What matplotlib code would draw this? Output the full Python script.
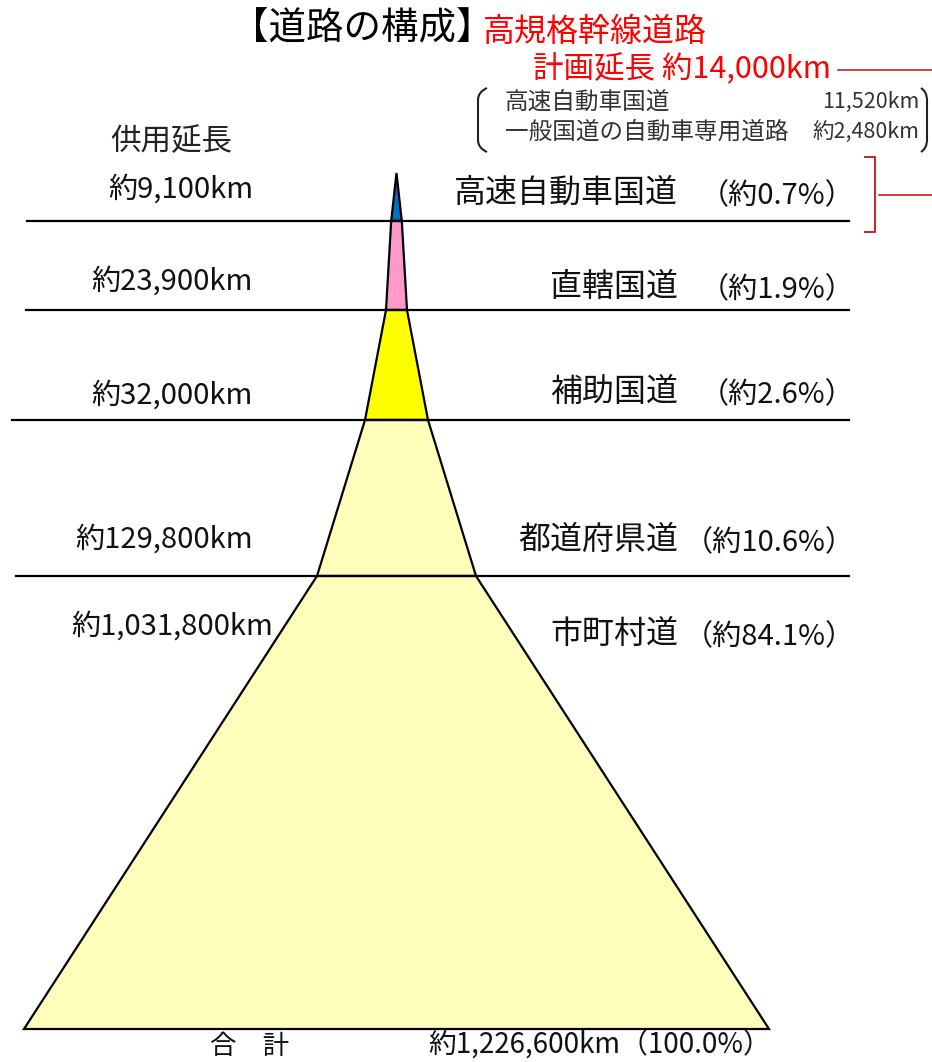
import matplotlib.pyplot as plt
from matplotlib.patches import Polygon, PathPatch
from matplotlib.path import Path

plt.rcParams['font.family'] = ['Noto Sans CJK JP', 'DejaVu Sans']

# data
road_types = ['高速自動車国道', '直轄国道', '補助国道', '都道府県道', '市町村道']
lengths_km = [9100, 23900, 32000, 129800, 1031800]
shares_pct = [0.7, 1.9, 2.6, 10.6, 84.1]
total_km = 1226600
total_pct = 100.0
plan_items = ['高速自動車国道', '一般国道の自動車専用道路']
plan_values = ['11,520km', '約2,480km']
plan_total = '約14,000km'

layer_colors = ['#0070C0', '#FF99CC', '#FFFF00', '#FFFFBB', '#FFFFBB']

# layout (pixel-like coordinates of the drawing)
cx = 396.5
level_y = [173, 221, 310, 420, 576, 1029]
half_w = [0, 5.3, 10.5, 31.5, 79.5, 372.5]
line_x0 = [27, 26, 12, 16]
name_y = [193, 287, 392, 540, 634]
len_y = [190, 282, 396, 540, 627]

fig = plt.figure(figsize=(9.32, 10.62), dpi=100)
ax = fig.add_axes([0, 0, 1, 1])
ax.set_xlim(0, 932)
ax.set_ylim(1062, 0)
ax.axis('off')

# pyramid layers
for i, col in enumerate(layer_colors):
    y0, y1 = level_y[i], level_y[i + 1]
    w0, w1 = half_w[i], half_w[i + 1]
    pts = [(cx - w0, y0), (cx + w0, y0), (cx + w1, y1), (cx - w1, y1)]
    ax.add_patch(Polygon(pts, closed=True, facecolor=col, edgecolor='black',
                         lw=1.6, joinstyle='miter', zorder=2))

# separator lines
for y, x0 in zip(level_y[1:5], line_x0):
    ax.plot([x0, 849], [y, y], color='black', lw=1.6, zorder=3)

# labels
ax.text(171, 142, '供用延長', fontsize=22, ha='center', va='center', color='#222222')
for i, (nm, km, pc) in enumerate(zip(road_types, lengths_km, shares_pct)):
    xr = 273 if i == 4 else 253
    ax.text(xr, len_y[i], f'約{km:,}km', fontsize=21, ha='right', va='center',
            color='#111111')
    ax.text(678, name_y[i], nm, fontsize=23, ha='right', va='center', color='#111111')
    ax.text(855, name_y[i] + 3, f'（約{pc}%）', fontsize=21, ha='right', va='center',
            color='#111111')

# total
ax.text(250, 1046, '合　計', fontsize=19, ha='center', va='center', color='#111111')
ax.text(428, 1046, f'約{total_km:,}km（{total_pct}%）', fontsize=20, ha='left',
        va='center', color='#111111')

# title
ax.text(494, 29, '【道路の構成】', fontsize=27, ha='right', va='center', color='black')
ax.text(483, 32, '高規格幹線道路', fontsize=23, ha='left', va='center', color='#FF0000')
ax.text(533, 68, f'計画延長 {plan_total}', fontsize=22, ha='left', va='center',
        color='#FF0000')
ax.plot([838, 932], [70, 70], color='#CC2222', lw=1.2)

# planned breakdown in round brackets
def paren(x_in, x_out, y0, y1):
    verts = [(x_in, y0), (x_out, y0 + 4), (x_out, y0 + 12), (x_out, y1 - 12),
             (x_out, y1 - 4), (x_in, y1)]
    codes = [Path.MOVETO, Path.CURVE3, Path.CURVE3, Path.LINETO, Path.CURVE3, Path.CURVE3]
    return PathPatch(Path(verts, codes), facecolor='none', edgecolor='#222222', lw=1.5)

ax.add_patch(paren(487, 478, 88, 152))
ax.add_patch(paren(921, 927, 88, 152))
for j, (it, v) in enumerate(zip(plan_items, plan_values)):
    ax.text(505, 102 + 30 * j, it, fontsize=17, ha='left', va='center', color='#333333')
    ax.text(919, 102 + 30 * j, v, fontsize=15.5, ha='right', va='center', color='#333333')

# red bracket
ax.plot([865, 875, 875, 865], [157, 157, 232, 232], color='#CC2222', lw=1.4)
ax.plot([879, 932], [195, 195], color='#CC2222', lw=1.2)

fig.savefig('out.png', dpi=100)
